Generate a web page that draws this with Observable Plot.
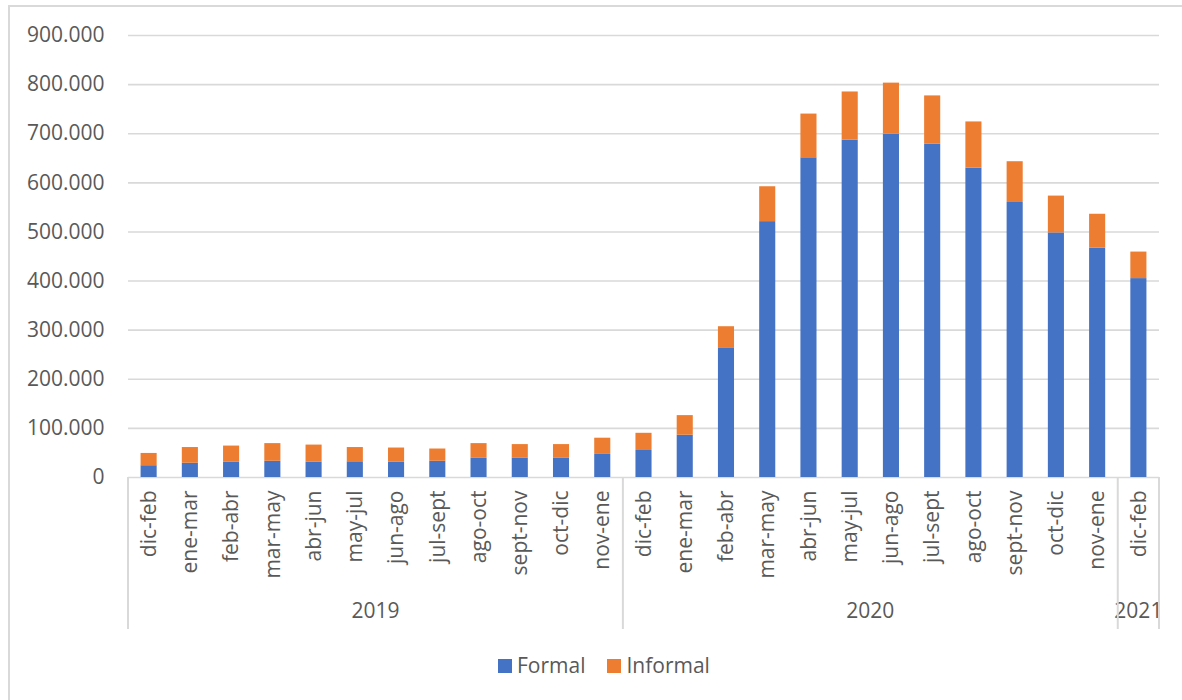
<!DOCTYPE html>
<html>
<head>
<meta charset="utf-8">
<script src="https://cdn.jsdelivr.net/npm/d3@7"></script>
<script src="https://cdn.jsdelivr.net/npm/@observablehq/plot@0.6"></script>
<style>
  body { margin: 0; background: #fff; font-family: "Open Sans", sans-serif; }
  #wrap { position: relative; width: 1182px; height: 700px; overflow: hidden; background: #fff; }
  #frame { position: absolute; left: 8px; top: 5px; width: 1300px; height: 800px;
           border: 2px solid #d9d9d9; box-sizing: border-box; }
  #chart { position: absolute; left: 0; top: 0; }
  #legend { position: absolute; left: 498px; top: 651px; display: flex; align-items: center;
            font-size: 21px; color: #595959; line-height: 28px; }
  #legend .item { display: flex; align-items: center; margin-right: 22px; }
  #legend .sw { width: 14px; height: 14px; margin-right: 5px; margin-top: 2px; }
</style>
</head>
<body>
<div id="wrap">
  <div id="frame"></div>
  <div id="chart"></div>
  <div id="legend"></div>
</div>
<script>
// Rolling three-month periods
const periods = [
  "dic-feb", "ene-mar", "feb-abr", "mar-may", "abr-jun", "may-jul",
  "jun-ago", "jul-sept", "ago-oct", "sept-nov", "oct-dic", "nov-ene",
  "dic-feb", "ene-mar", "feb-abr", "mar-may", "abr-jun", "may-jul",
  "jun-ago", "jul-sept", "ago-oct", "sept-nov", "oct-dic", "nov-ene",
  "dic-feb"
];
const years = [
  "2019", "2019", "2019", "2019", "2019", "2019", "2019", "2019", "2019", "2019", "2019", "2019",
  "2020", "2020", "2020", "2020", "2020", "2020", "2020", "2020", "2020", "2020", "2020", "2020",
  "2021"
];
const formal = [
  24000, 29000, 31000, 33000, 31000, 32000, 31000, 33000, 39000, 39000, 39000, 47000,
  55000, 86000, 264000, 521000, 651000, 687000, 699000, 679000, 630000, 560000, 498000, 467000,
  405000
];
const informal = [
  25000, 32000, 33000, 36000, 35000, 29000, 29000, 25000, 30000, 28000, 28000, 33000,
  35000, 40000, 43000, 71000, 89000, 98000, 104000, 98000, 94000, 83000, 75000, 69000,
  54000
];
const series = ["Formal", "Informal"];
const colors = ["#4472C4", "#ED7D31"];
const yTicks = [0, 100000, 200000, 300000, 400000, 500000, 600000, 700000, 800000, 900000];

const keys = periods.map((p, i) => `${years[i]}|${p}`);
const rows = [];
keys.forEach((k, i) => {
  rows.push({key: k, series: "Formal", value: formal[i]});
  rows.push({key: k, series: "Informal", value: informal[i]});
});
const labels = keys.map((k, i) => ({key: k, period: periods[i]}));

// year groups: first and last category of each year
const groups = Array.from(d3.group(keys.map((k, i) => ({k, y: years[i]})), d => d.y),
  ([y, arr]) => ({year: y, first: arr[0].k, last: arr[arr.length - 1].k}));

const fmt = d3.formatLocale({decimal: ",", thousands: ".", grouping: [3], currency: ["", ""]}).format(",");
const grey = "#595959";

// Multi-level category axis: group dividers and year labels under the rotated periods
function yearAxis(index, scales, values, dims) {
  const x = scales.x;
  const step = x(keys[1]) - x(keys[0]);
  const bw = x.bandwidth();
  const top = dims.height - dims.marginBottom;
  const g = d3.create("svg:g");
  const edges = [];
  groups.forEach((gr, i) => {
    const left = x(gr.first) + bw / 2 - step / 2;
    const right = x(gr.last) + bw / 2 + step / 2;
    if (i === 0) edges.push(left);
    edges.push(right);
    g.append("text")
      .attr("x", (left + right) / 2)
      .attr("y", top + 135)
      .attr("text-anchor", "middle")
      .attr("dominant-baseline", "middle")
      .attr("font-size", 21)
      .attr("fill", grey)
      .text(gr.year);
  });
  edges.forEach(e => {
    g.append("line")
      .attr("x1", e).attr("x2", e)
      .attr("y1", top).attr("y2", top + 152)
      .attr("stroke", "#d9d9d9").attr("stroke-width", 2);
  });
  return g.node();
}

const chart = Plot.plot({
  width: 1182,
  height: 640,
  marginLeft: 128,
  marginRight: 23,
  marginTop: 35,
  marginBottom: 163,
  style: {fontFamily: "'Open Sans', sans-serif", color: grey, background: "transparent"},
  x: {domain: keys, paddingInner: 0.61, paddingOuter: 0.305, round: false, axis: null},
  y: {domain: [0, 900000], axis: null},
  color: {domain: series, range: colors},
  marks: [
    Plot.ruleY(yTicks, {stroke: "#d9d9d9", strokeWidth: 1.6}),
    Plot.axisY({ticks: yTicks, tickSize: 0, tickPadding: 24, tickFormat: fmt, fontSize: 21, fill: grey, label: null}),
    Plot.barY(rows, {x: "key", y: "value", fill: "series"}),
    Plot.text(labels, {
      x: "key", text: "period", frameAnchor: "bottom", rotate: -90,
      textAnchor: "end", lineAnchor: "middle", dy: 13, fontSize: 21, fill: grey
    }),
    yearAxis
  ]
});
document.getElementById("chart").appendChild(chart);

// legend
const legend = document.getElementById("legend");
series.forEach((s, i) => {
  const item = document.createElement("div");
  item.className = "item";
  const sw = document.createElement("span");
  sw.className = "sw";
  sw.style.background = colors[i];
  const t = document.createElement("span");
  t.textContent = s;
  item.appendChild(sw);
  item.appendChild(t);
  legend.appendChild(item);
});
</script>
</body>
</html>
